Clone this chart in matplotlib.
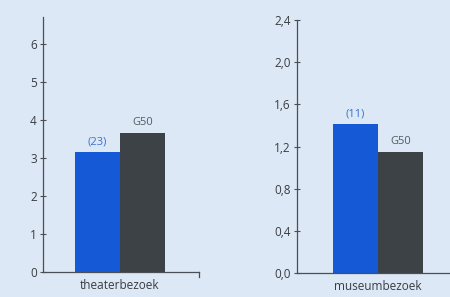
import matplotlib
matplotlib.use("Agg")
import matplotlib.pyplot as plt

plt.rcParams['font.family'] = ['Open Sans', 'DejaVu Sans']

# Data
categories = ["theaterbezoek", "museumbezoek"]
series_labels_left = ["(23)", "G50"]
series_labels_right = ["(11)", "G50"]
theater_values = [3.15, 3.65]
museum_values = [1.41, 1.15]
left_ticks = [0, 1, 2, 3, 4, 5, 6]
left_ticklabels = ["0", "1", "2", "3", "4", "5", "6"]
right_ticks = [0.0, 0.4, 0.8, 1.2, 1.6, 2.0, 2.4]
right_ticklabels = ["0,0", "0,4", "0,8", "1,2", "1,6", "2,0", "2,4"]

bg = "#dce8f5"
blue = "#1559d6"
dark = "#3d4246"
axis_col = "#4a4f55"
text_col = "#3a3d40"
label_blue = "#3a72d0"
label_gray = "#555a5e"

W, H = 450, 297
fig = plt.figure(figsize=(4.5, 2.97), dpi=100)
fig.patch.set_facecolor(bg)

def make_ax(left_px, right_px, bottom_px, top_px):
    return fig.add_axes([left_px / W, (H - bottom_px) / H,
                         (right_px - left_px) / W, (bottom_px - top_px) / H])

def style(ax, ticks, ticklabels, ylim, xlim, values, labels, cat):
    ax.set_facecolor(bg)
    xs = [-0.5, 0.5]
    ax.bar(xs, values, width=1.0, color=[blue, dark], edgecolor='none', zorder=2)
    for x, v, lab, c in zip(xs, values, labels, [label_blue, label_gray]):
        ax.annotate(lab, (x, v), xytext=(0, 3.5), textcoords='offset points',
                    ha='center', va='bottom', fontsize=8, color=c)
    ax.set_ylim(*ylim)
    ax.set_xlim(*xlim)
    ax.set_yticks(ticks)
    ax.set_yticklabels(ticklabels)
    ax.set_xticks([0])
    ax.set_xticklabels([cat])
    for s in ['top', 'right']:
        ax.spines[s].set_visible(False)
    for s in ['left', 'bottom']:
        ax.spines[s].set_color(axis_col)
        ax.spines[s].set_linewidth(0.9)
    ax.tick_params(axis='y', direction='inout', length=5, width=0.8, color=axis_col,
                   labelsize=8.5, labelcolor=text_col, pad=2)
    ax.tick_params(axis='x', length=0, labelsize=8.5, labelcolor=text_col, pad=5)

axL = make_ax(43, 199, 272, 17)
style(axL, left_ticks, left_ticklabels, (0, 6.7), (-1.711, 1.756),
      theater_values, series_labels_left, categories[0])
axL.plot([1.756, 1.756], [0, -0.12], color=axis_col, lw=0.9, clip_on=False)

axR = make_ax(297, 455, 273, 20)
style(axR, right_ticks, right_ticklabels, (0, 2.4), (-1.8, 1.71),
      museum_values, series_labels_right, categories[1])

fig.savefig("out.png", dpi=100, facecolor=bg)
